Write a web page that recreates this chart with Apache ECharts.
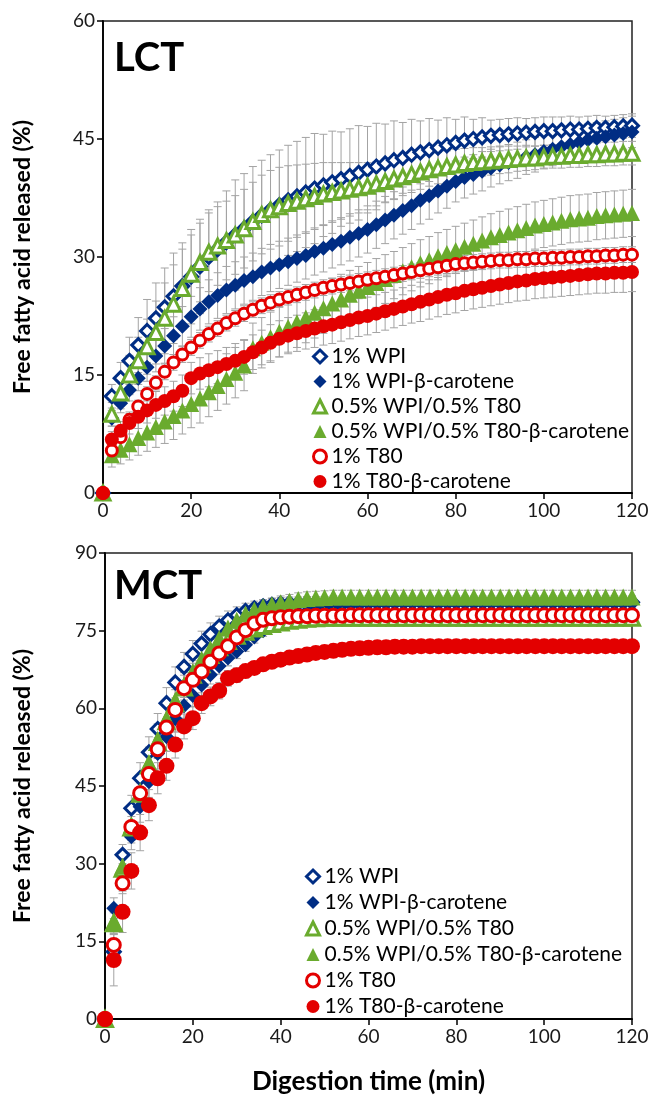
<!DOCTYPE html>
<html><head><meta charset="utf-8">
<script src="https://cdn.jsdelivr.net/npm/echarts@6/dist/echarts.min.js"></script>
<style>html,body{margin:0;padding:0;background:#fff}#c{width:652px;height:1102px}</style>
</head><body><div id="c"></div>
<script>
const times = [0,2,4,6,8,10,12,14,16,18,20,22,24,26,28,30,32,34,36,38,40,42,44,46,48,50,52,54,56,58,60,62,64,66,68,70,72,74,76,78,80,82,84,86,88,90,92,94,96,98,100,102,104,106,108,110,112,114,116,118,120];
const seriesNames = ['1% WPI','1% WPI-β-carotene','0.5% WPI/0.5% T80','0.5% WPI/0.5% T80-β-carotene','1% T80','1% T80-β-carotene'];
const xTicks = [0,20,40,60,80,100,120];
const lctYTicks = [0,15,30,45,60];
const mctYTicks = [0,15,30,45,60,75,90];

// LCT panel
const lct_wpi = [0,12.3,14.6,16.8,18.8,20.6,22.2,23.6,25.0,26.3,27.5,28.8,30.0,31.0,31.9,32.8,33.6,34.5,35.3,36.0,36.6,37.2,37.7,38.2,38.7,39.1,39.5,39.9,40.3,40.7,41.1,41.5,41.9,42.3,42.6,43.0,43.3,43.6,43.9,44.2,44.5,44.8,45.0,45.2,45.4,45.5,45.6,45.7,45.8,45.9,46.0,46.0,46.1,46.2,46.2,46.3,46.4,46.4,46.5,46.6,46.7];
const lct_wpiB = [0,9.5,11.4,13.1,14.6,16.0,17.4,18.7,20.0,21.2,22.4,23.4,24.3,25.1,25.8,26.4,27.0,27.5,28.1,28.6,29.0,29.4,29.8,30.2,30.7,31.1,31.6,32.0,32.5,33.0,33.5,34.1,34.7,35.3,35.9,36.5,37.2,37.8,38.4,39.0,39.6,40.1,40.5,40.9,41.3,41.7,42.0,42.3,42.7,43.0,43.4,43.7,44.0,44.3,44.6,44.9,45.1,45.3,45.5,45.7,45.9];
const lct_mix = [0,10.0,12.7,15.0,16.8,18.6,20.4,22.2,24.0,26.0,27.8,29.3,30.6,31.4,32.1,32.8,33.6,34.5,35.4,36.0,36.4,36.8,37.1,37.4,37.7,38.0,38.2,38.4,38.6,38.8,39.0,39.3,39.6,39.9,40.2,40.5,40.8,41.1,41.3,41.5,41.7,41.9,42.0,42.1,42.2,42.3,42.4,42.5,42.6,42.6,42.7,42.8,42.8,42.9,42.9,43.0,43.0,43.1,43.1,43.2,43.2];
const lct_mixB = [0,4.8,5.5,6.2,7.0,7.7,8.4,9.1,9.8,10.5,11.3,12.0,12.8,13.6,14.5,15.3,16.2,18.4,19.1,19.8,20.5,21.1,21.7,22.3,22.9,23.5,24.1,24.6,25.2,25.7,26.2,26.7,27.2,27.7,28.2,28.7,29.2,29.6,30.1,30.5,30.9,31.3,31.7,32.1,32.5,32.8,33.1,33.4,33.7,34.0,34.2,34.4,34.6,34.8,34.9,35.0,35.2,35.3,35.4,35.5,35.6];
const lct_t80 = [0,5.4,7.1,9.3,11.0,12.6,14.0,15.4,16.6,17.6,18.5,19.4,20.2,20.9,21.6,22.2,22.8,23.3,23.8,24.2,24.6,24.9,25.2,25.5,25.8,26.1,26.3,26.5,26.7,26.9,27.1,27.3,27.5,27.7,27.9,28.1,28.3,28.5,28.7,28.9,29.1,29.2,29.3,29.4,29.5,29.6,29.6,29.7,29.7,29.8,29.8,29.9,29.9,30.0,30.0,30.1,30.1,30.2,30.2,30.3,30.3];
const lct_t80B = [0,6.8,7.9,8.9,9.7,10.5,11.2,11.7,12.3,13.0,14.6,15.2,15.6,16.0,16.4,16.8,17.3,17.9,18.5,19.1,19.6,20.0,20.3,20.6,20.9,21.2,21.4,21.7,22.0,22.3,22.5,22.8,23.1,23.4,23.7,24.0,24.3,24.6,24.9,25.2,25.4,25.7,25.9,26.1,26.3,26.5,26.7,26.9,27.0,27.2,27.3,27.4,27.5,27.6,27.7,27.8,27.9,27.9,28.0,28.0,28.1];
// LCT standard deviations
const lct_wpi_sd = [0,1.5,2.0,3.0,3.5,4.0,4.5,5.0,5.5,5.5,6.0,6.0,6.0,6.0,6.5,7.0,7.0,7.0,7.0,7.0,7.0,7.0,7.0,7.0,7.0,6.5,6.5,6.0,6.0,6.0,5.5,5.5,5.0,5.0,4.5,4.5,4.0,4.0,3.5,3.5,3.0,3.0,2.5,2.5,2.0,2.0,2.0,2.0,1.8,1.8,1.8,1.8,1.7,1.7,1.6,1.6,1.6,1.5,1.5,1.5,1.5];
const lct_wpiB_sd = [0,1.0,1.2,1.4,1.6,1.8,2.0,2.2,2.4,2.5,2.6,2.7,2.8,2.9,3.0,3.0,3.0,3.0,3.0,3.0,3.0,3.0,3.0,3.0,3.0,3.0,3.0,3.0,3.0,3.0,3.0,3.0,3.0,3.0,3.0,3.0,3.0,3.0,2.8,2.8,2.6,2.6,2.5,2.5,2.4,2.4,2.3,2.3,2.2,2.2,2.1,2.1,2.0,2.0,2.0,2.0,2.0,2.0,2.0,2.0,2.0];
const lct_mix_sd = [0,1.5,2.0,2.5,3.0,3.5,4.0,4.5,5.0,5.0,5.0,5.0,5.0,5.0,5.0,5.0,5.0,5.0,5.0,5.0,5.0,4.8,4.6,4.4,4.2,4.0,3.8,3.6,3.4,3.2,3.0,2.8,2.6,2.5,2.4,2.3,2.2,2.1,2.0,2.0,2.0,1.9,1.9,1.8,1.8,1.7,1.7,1.6,1.6,1.5,1.5,1.5,1.5,1.5,1.5,1.5,1.5,1.5,1.5,1.5,1.5];
const lct_mixB_sd = [0,1.5,1.8,2.0,2.2,2.4,2.6,2.8,3.0,3.0,3.0,3.1,3.1,3.1,3.2,3.2,3.2,3.2,3.2,3.2,3.2,3.2,3.2,3.2,3.2,3.2,3.2,3.2,3.1,3.1,3.1,3.1,3.1,3.0,3.0,3.0,3.0,3.0,3.0,3.0,3.0,3.0,3.0,3.0,3.0,3.0,3.0,3.0,3.0,3.0,3.0,3.0,3.0,3.0,3.0,3.0,3.0,3.0,3.0,3.0,3.0];
const lct_t80_sd = [0,0.6,0.7,0.8,0.8,0.9,0.9,1.0,1.0,1.0,1.0,1.0,1.0,1.0,1.0,1.0,1.0,1.0,1.0,1.0,1.0,1.0,1.0,1.0,1.0,1.0,1.0,1.0,1.0,1.0,1.0,1.0,1.0,1.0,1.0,1.0,1.0,1.0,1.0,1.0,1.0,1.0,1.0,1.0,1.0,1.0,1.0,1.0,1.0,1.0,1.0,1.0,1.0,1.0,1.0,1.0,1.0,1.0,1.0,1.0,1.0];
const lct_t80B_sd = [0,1.0,1.2,1.4,1.5,1.6,1.7,1.8,1.9,2.0,2.0,2.0,2.1,2.1,2.1,2.2,2.2,2.2,2.2,2.3,2.3,2.3,2.3,2.3,2.4,2.4,2.4,2.4,2.4,2.4,2.4,2.4,2.4,2.4,2.4,2.4,2.5,2.5,2.5,2.5,2.5,2.5,2.5,2.5,2.5,2.5,2.5,2.5,2.5,2.5,2.5,2.5,2.5,2.5,2.5,2.5,2.5,2.5,2.5,2.5,2.5];

// MCT panel
const mct_wpi = [0,13.0,31.7,40.7,46.5,51.5,56.0,61.0,65.0,68.0,70.5,72.5,74.3,75.8,77.0,78.0,78.8,79.3,79.7,80.0,80.2,80.3,80.3,80.4,80.4,80.4,80.5,80.5,80.5,80.5,80.5,80.5,80.5,80.5,80.5,80.5,80.5,80.5,80.5,80.5,80.5,80.5,80.5,80.5,80.5,80.5,80.5,80.5,80.5,80.5,80.5,80.5,80.5,80.5,80.5,80.5,80.5,80.5,80.5,80.5,80.5];
const mct_wpiB = [0,21.4,28.0,35.2,41.0,45.8,51.3,54.5,58.0,60.5,62.5,64.5,66.5,68.2,69.7,71.0,72.3,73.8,75.0,76.0,76.9,77.6,78.2,78.7,79.1,79.4,79.7,79.9,80.0,80.1,80.2,80.2,80.2,80.3,80.3,80.3,80.3,80.3,80.3,80.3,80.3,80.3,80.3,80.3,80.3,80.3,80.3,80.3,80.3,80.3,80.3,80.3,80.3,80.3,80.3,80.3,80.3,80.3,80.3,80.3,80.4];
const mct_mix = [0,18.5,29.0,37.0,43.5,49.0,53.5,57.5,61.0,64.0,66.5,68.5,70.3,71.8,73.0,74.0,74.8,75.4,75.9,76.3,76.6,76.9,77.1,77.3,77.4,77.5,77.5,77.5,77.5,77.5,77.5,77.5,77.5,77.5,77.5,77.5,77.5,77.5,77.5,77.5,77.5,77.5,77.5,77.5,77.5,77.5,77.5,77.5,77.5,77.5,77.5,77.5,77.5,77.5,77.5,77.5,77.5,77.5,77.5,77.5,77.5];
const mct_mixB = [0,18.8,29.5,37.5,44.0,49.5,54.0,58.0,61.5,64.5,67.0,69.5,71.5,73.5,75.5,77.0,78.2,79.0,79.6,80.0,80.4,80.7,81.0,81.2,81.3,81.4,81.5,81.5,81.5,81.5,81.5,81.5,81.5,81.5,81.5,81.5,81.5,81.5,81.5,81.5,81.5,81.5,81.5,81.5,81.5,81.5,81.5,81.5,81.5,81.5,81.5,81.5,81.5,81.5,81.5,81.5,81.5,81.5,81.5,81.5,81.5];
const mct_t80 = [0,14.3,26.2,37.1,43.6,47.3,52.1,56.3,59.7,63.9,65.5,67.1,69.0,70.6,72.0,73.7,75.1,76.4,77.1,77.4,77.6,77.7,77.8,77.8,77.9,77.9,77.9,77.9,78.0,78.0,78.0,78.0,78.0,78.0,78.0,78.0,78.0,78.0,78.0,78.0,78.0,78.0,78.0,78.0,78.0,78.0,78.0,78.0,78.0,78.0,78.0,78.0,78.0,78.0,78.0,78.0,78.0,78.0,78.0,78.0,78.0];
const mct_t80B = [0,11.4,20.7,28.6,36.0,41.3,46.5,48.9,53.0,56.5,58.1,61.0,62.3,63.4,65.8,66.4,67.2,67.8,68.5,69.0,69.4,69.8,70.1,70.4,70.7,70.9,71.1,71.3,71.5,71.6,71.7,71.8,71.8,71.9,71.9,71.9,72.0,72.0,72.0,72.0,72.0,72.0,72.0,72.0,72.0,72.0,72.0,72.0,72.0,72.0,72.0,72.0,72.0,72.0,72.0,72.0,72.0,72.0,72.0,72.0,72.0];
// MCT standard deviations
const mct_wpi_sd = [0,1.5,2.0,2.5,3.0,3.0,3.0,3.0,3.0,2.8,2.6,2.4,2.2,2.0,1.8,1.6,1.5,1.4,1.3,1.2,1.2,1.2,1.2,1.2,1.2,1.2,1.2,1.2,1.2,1.2,1.2,1.2,1.2,1.2,1.2,1.2,1.2,1.2,1.2,1.2,1.2,1.2,1.2,1.2,1.2,1.2,1.2,1.2,1.2,1.2,1.2,1.2,1.2,1.2,1.2,1.2,1.2,1.2,1.2,1.2,1.2];
const mct_wpiB_sd = [0,2.0,2.0,2.5,3.0,3.0,3.0,2.8,2.6,2.4,2.2,2.0,1.8,1.6,1.5,1.4,1.3,1.2,1.1,1.0,1.0,1.0,1.0,1.0,1.0,1.0,1.0,1.0,1.0,1.0,1.0,1.0,1.0,1.0,1.0,1.0,1.0,1.0,1.0,1.0,1.0,1.0,1.0,1.0,1.0,1.0,1.0,1.0,1.0,1.0,1.0,1.0,1.0,1.0,1.0,1.0,1.0,1.0,1.0,1.0,1.0];
const mct_mix_sd = [0,2.0,2.5,3.0,3.0,3.0,3.0,2.8,2.6,2.4,2.2,2.0,1.8,1.6,1.5,1.4,1.3,1.2,1.2,1.2,1.2,1.2,1.2,1.2,1.2,1.2,1.2,1.2,1.2,1.2,1.2,1.2,1.2,1.2,1.2,1.2,1.2,1.2,1.2,1.2,1.2,1.2,1.2,1.2,1.2,1.2,1.2,1.2,1.2,1.2,1.2,1.2,1.2,1.2,1.2,1.2,1.2,1.2,1.2,1.2,1.2];
const mct_mixB_sd = [0,2.0,2.5,3.0,3.0,3.0,3.0,2.8,2.6,2.4,2.2,2.0,1.8,1.6,1.5,1.4,1.3,1.3,1.3,1.3,1.3,1.3,1.3,1.3,1.3,1.3,1.3,1.3,1.3,1.3,1.3,1.3,1.3,1.3,1.3,1.3,1.3,1.3,1.3,1.3,1.3,1.3,1.3,1.3,1.3,1.3,1.3,1.3,1.3,1.3,1.3,1.3,1.3,1.3,1.3,1.3,1.3,1.3,1.3,1.3,1.3];
const mct_t80_sd = [0,2.0,2.0,2.0,2.0,2.0,1.8,1.6,1.5,1.4,1.3,1.2,1.1,1.0,1.0,1.0,1.0,1.0,1.0,1.0,1.0,1.0,1.0,1.0,1.0,1.0,1.0,1.0,1.0,1.0,1.0,1.0,1.0,1.0,1.0,1.0,1.0,1.0,1.0,1.0,1.0,1.0,1.0,1.0,1.0,1.0,1.0,1.0,1.0,1.0,1.0,1.0,1.0,1.0,1.0,1.0,1.0,1.0,1.0,1.0,1.0];
const mct_t80B_sd = [0,5.0,4.0,3.5,3.5,3.0,3.0,2.8,2.6,2.4,2.2,2.0,1.8,1.6,1.5,1.4,1.3,1.2,1.1,1.0,1.0,1.0,1.0,1.0,1.0,1.0,1.0,1.0,1.0,1.0,1.0,1.0,1.0,1.0,1.0,1.0,1.0,1.0,1.0,1.0,1.0,1.0,1.0,1.0,1.0,1.0,1.0,1.0,1.0,1.0,1.0,1.0,1.0,1.0,1.0,1.0,1.0,1.0,1.0,1.0,1.0];

const NAVY = '#002d84', GREEN = '#6aab2e', RED = '#e30000';
const FONT = 'Lato';
const styles = [
  {symbol:'diamond', open:true, color:NAVY, sz:[13,13]},
  {symbol:'diamond', open:false, color:NAVY, sz:[15,15]},
  {symbol:'triangle', open:true, color:GREEN, sz:[14,15]},
  {symbol:'triangle', open:false, color:GREEN, sz:[16,17]},
  {symbol:'circle', open:true, color:RED, sz:[11,13]},
  {symbol:'circle', open:false, color:RED, sz:[14,16]}
];
const lctData = [lct_wpi, lct_wpiB, lct_mix, lct_mixB, lct_t80, lct_t80B];
const lctSd = [lct_wpi_sd, lct_wpiB_sd, lct_mix_sd, lct_mixB_sd, lct_t80_sd, lct_t80B_sd];
const mctData = [mct_wpi, mct_wpiB, mct_mix, mct_mixB, mct_t80, mct_t80B];
const mctSd = [mct_wpi_sd, mct_wpiB_sd, mct_mix_sd, mct_mixB_sd, mct_t80_sd, mct_t80B_sd];

function itemStyleOf(st) {
  return st.open ? {color:'#fff', borderColor:st.color, borderWidth:3, opacity:1}
                 : {color:st.color, borderWidth:0, opacity:1};
}
function errRender(params, api) {
  const x = api.value(0), lo = api.value(1), hi = api.value(2);
  const p1 = api.coord([x, lo]), p2 = api.coord([x, hi]);
  const w = 4;
  const ls = {stroke:'#a3a3a3', lineWidth:1};
  return {type:'group', children:[
    {type:'line', shape:{x1:p1[0], y1:p1[1], x2:p2[0], y2:p2[1]}, style:ls},
    {type:'line', shape:{x1:p1[0]-w, y1:p1[1], x2:p1[0]+w, y2:p1[1]}, style:ls},
    {type:'line', shape:{x1:p2[0]-w, y1:p2[1], x2:p2[0]+w, y2:p2[1]}, style:ls}
  ]};
}
const series = [];
[[lctData, lctSd, 0], [mctData, mctSd, 1]].forEach(([data, sd, gi]) => {
  const errData = [];
  data.forEach((arr, k) => {
    times.forEach((t, i) => { if (sd[k][i] > 0) errData.push([t, arr[i] - sd[k][i], arr[i] + sd[k][i]]); });
  });
  series.push({type:'custom', xAxisIndex:gi, yAxisIndex:gi, renderItem:errRender, data:errData,
    encode:{x:0, y:[1,2]}, z:1, silent:true, clip:false});
  data.forEach((arr, k) => {
    const st = styles[k];
    series.push({
      type:'scatter', name:seriesNames[k], xAxisIndex:gi, yAxisIndex:gi,
      symbol:st.symbol, symbolSize:st.sz[gi], z:2 + k * 0.01, zlevel:0,
      itemStyle:itemStyleOf(st), emphasis:{disabled:true}, clip:false,
      data: times.map((t, i) => [t, arr[i]])
    });
  });
});

function axisCommon() {
  return {
    axisLine:{show:true, onZero:false, lineStyle:{color:'#000', width:1.8}},
    axisTick:{show:true, inside:false, length:6, lineStyle:{color:'#000', width:1.5}},
    axisLabel:{fontFamily:FONT, fontSize:19, color:'#1a1a1a', margin:8},
    splitLine:{show:false}
  };
}
const yTitleStyle = {fontFamily:FONT, fontWeight:'bold', fontSize:23, color:'#000'};
const xTitleStyle = {fontFamily:FONT, fontWeight:'bold', fontSize:26, color:'#000'};
const legendData = seriesNames.map((n, k) => ({name:n, icon:styles[k].symbol, itemStyle:itemStyleOf(styles[k])}));
const option = {
  animation:false,
  backgroundColor:'#fff',
  grid:[
    {left:103, top:21, width:529, height:472, show:true, borderColor:'#222', borderWidth:1.5, backgroundColor:'transparent'},
    {left:105, top:553, width:527, height:466, show:true, borderColor:'#222', borderWidth:1.5, backgroundColor:'transparent'}
  ],
  xAxis:[
    Object.assign(axisCommon(), {type:'value', gridIndex:0, min:xTicks[0], max:xTicks[xTicks.length-1], interval:xTicks[1]-xTicks[0]}),
    Object.assign(axisCommon(), {type:'value', gridIndex:1, min:xTicks[0], max:xTicks[xTicks.length-1], interval:xTicks[1]-xTicks[0],
      name:'Digestion time (min)', nameLocation:'middle', nameGap:50, nameTextStyle:xTitleStyle})
  ],
  yAxis:[
    Object.assign(axisCommon(), {type:'value', gridIndex:0, min:lctYTicks[0], max:lctYTicks[lctYTicks.length-1], interval:lctYTicks[1]-lctYTicks[0],
      name:'Free fatty acid released (%)', nameLocation:'middle', nameGap:69, nameTextStyle:yTitleStyle}),
    Object.assign(axisCommon(), {type:'value', gridIndex:1, min:mctYTicks[0], max:mctYTicks[mctYTicks.length-1], interval:mctYTicks[1]-mctYTicks[0],
      name:'Free fatty acid released (%)', nameLocation:'middle', nameGap:71, nameTextStyle:yTitleStyle})
  ],
  legend:[
    {orient:'vertical', left:307, top:341, itemWidth:13, itemHeight:13, itemGap:4, data:legendData,
     selectedMode:false, textStyle:{fontFamily:FONT, fontSize:21, lineHeight:21, color:'#000'}},
    {orient:'vertical', left:300, top:861, itemWidth:13, itemHeight:13, itemGap:5, data:legendData,
     selectedMode:false, textStyle:{fontFamily:FONT, fontSize:21, lineHeight:21, color:'#000'}}
  ],
  graphic:[
    {type:'text', left:114, top:38, style:{text:'LCT', font:'bold 40px Lato', fill:'#000'}},
    {type:'text', left:114, top:566, style:{text:'MCT', font:'bold 40px Lato', fill:'#000'}}
  ],
  series:series
};
const chart = echarts.init(document.getElementById('c'), null, {renderer:'canvas'});
chart.setOption(option);
</script>
</body></html>
